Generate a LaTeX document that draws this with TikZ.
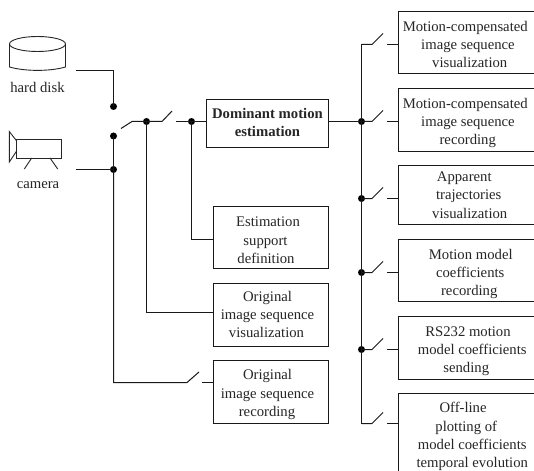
\documentclass[tikz,border=0pt]{standalone}
\usepackage{fontspec}
\setmainfont{Liberation Serif}
\usetikzlibrary{calc}
\newcommand{\sft}[2]{\kern #1pt #2\kern -#1pt}
\newcommand{\tl}[2]{\raisebox{-#1pt}[\height][\depth]{\begin{tabular}{@{}c@{}}#2\end{tabular}}}
\tikzset{
  x=1pt,y=-1pt,
  wire/.style={draw=black!90,line width=1pt},
  shape line/.style={draw=black!85,line width=0.9pt},
  box/.style={draw=black!90,line width=1pt,fill=white,rectangle,anchor=north west,inner sep=0pt,
     font=\fontsize{14.7}{18.3}\selectfont,text=black!85},
  rbox/.style={box,minimum width=135.5pt},
  mbox/.style={box,minimum width=115pt},
  lbl/.style={font=\fontsize{14.7}{18}\selectfont,text=black!85,inner sep=0pt,anchor=base},
  dot/.style={circle,fill=black,inner sep=0pt,minimum size=7pt},
}
\begin{document}
\begin{tikzpicture}
\fill[white] (0,0) rectangle (534,470);
\clip (0,0) rectangle (534,470);
% boxes
\node[box,minimum width=122.5pt,minimum height=48pt,font=\fontsize{14.7}{18.3}\selectfont\bfseries] (dme) at (205.7,99) {\tl{0.5}{Dominant motion\\estimation}};
\node[mbox,minimum height=62pt] (est) at (213,206) {\tl{4}{\sft{-3}{Estimation}\\\sft{-5.5}{support}\\\sft{-5}{definition}}};
\node[mbox,minimum height=62.5pt] (ov) at (213,283) {\tl{1}{\sft{-3.5}{Original}\\\sft{-3.5}{image sequence}\\\sft{-4.5}{visualization}}};
\node[mbox,minimum height=63pt] (orec) at (213,360) {\tl{2.5}{\sft{-3.5}{Original}\\\sft{-3.5}{image sequence}\\\sft{-4}{recording}}};
\node[rbox,minimum height=62.3pt] (r1) at (398,11) {\tl{3}{\sft{-1}{Motion-compensated}\\\sft{1.7}{image sequence}\\\sft{3.5}{visualization}}};
\node[rbox,minimum height=62.5pt] (r2) at (398,88.5) {\tl{2.5}{\sft{-1}{Motion-compensated}\\\sft{1.7}{image sequence}\\\sft{1.5}{recording}}};
\node[rbox,minimum height=58.5pt] (r3) at (398,165.5) {\tl{1}{\sft{-2}{Apparent}\\\sft{2.5}{trajectories}\\\sft{3.5}{visualization}}};
\node[rbox,minimum height=62pt] (r4) at (398,239) {\tl{3.5}{\sft{4.5}{Motion model}\\\sft{4}{coefficients}\\\sft{3}{recording}}};
\node[rbox,minimum height=63pt] (r5) at (398,316) {\tl{2.7}{\sft{1.75}{RS232 motion}\\\sft{6}{model coefficients}\\\sft{0}{sending}}};
\node[rbox,minimum height=83pt] (r6) at (398,393) {\tl{1.5}{\sft{-3.2}{Off-line}\\\sft{0}{plotting of}\\\sft{6}{model coefficients}\\\sft{6}{temporal evolution}}};
% sources
\draw[shape line] (9.5,44) arc[start angle=180,end angle=540,x radius=28,y radius=7.5];
\draw[shape line] (9.5,44) -- (9.5,67) .. controls (25,71.5) and (50,71.5) .. (65.5,67) -- (65.5,44);
\coordinate (hdout) at (76,70.5);
\node[lbl] (hd) at (37.5,93) {hard disk};
\draw[shape line] (16.7,139) rectangle (61.7,158);
\draw[shape line] (16.7,141) -- (9.3,131.5) -- (9.3,162) -- (16.7,151);
\draw[shape line] (31.7,158) -- (24.3,169);
\draw[shape line] (50,158) -- (57.7,169);
\coordinate (camout) at (76,169.5);
\node[lbl] (cam) at (38,188.5) {camera};
% junctions
\node[dot] (a) at (113.5,106.5) {};
\node[dot] (b) at (113.5,136) {};
\node[dot] (c) at (113.5,169.5) {};
\node[dot] (d) at (146.5,121.5) {};
\node[dot] (e) at (191.5,121.5) {};
\node[dot] (f1) at (361.5,121.5) {};
\node[dot] (f2) at (361.5,198.5) {};
\node[dot] (f3) at (361.5,272.5) {};
\node[dot] (f4) at (361.5,349.5) {};
% left wiring
\coordinate (ovin) at (213,312.5);
\coordinate (estin) at (213,239.5);
\coordinate (orecin) at (213,382.5);
\draw[wire] (hdout) -| (a.center);
\draw[wire] (camout) -- (c.center);
\draw[wire] (b.center) -- (c.center);
\coordinate (s0) at (132,121.5);
\draw[wire] (121,128.5) -- (s0) -- (d.center) -- (162,121.5) -- (172,111);
\draw[wire] (176,121.5) -- (e.center) -- (dme.west |- e);
\draw[wire] (d.center) |- (ovin);
\draw[wire] (e.center) |- (estin);
\draw[wire] (c.center) |- (187,382.5) -- (199,372);
\draw[wire] (202,382.5) -- (orecin);
% right wiring
\draw[wire] (dme.east |- f1) -- (f1.center);
\coordinate (bt) at (361.5,44.5);
\coordinate (bb) at (361.5,423.5);
\draw[wire] (372,44.5) -- (bt) -- (bb) -- (372,423.5);
\foreach \y in {44.5,121.5,198.5,272.5,349.5,423.5}{
  \draw[wire] (361.5,\y) -- (372,\y) -- (383,\y-11);
  \draw[wire] (387,\y) -- (398,\y);
}
\end{tikzpicture}
\end{document}
